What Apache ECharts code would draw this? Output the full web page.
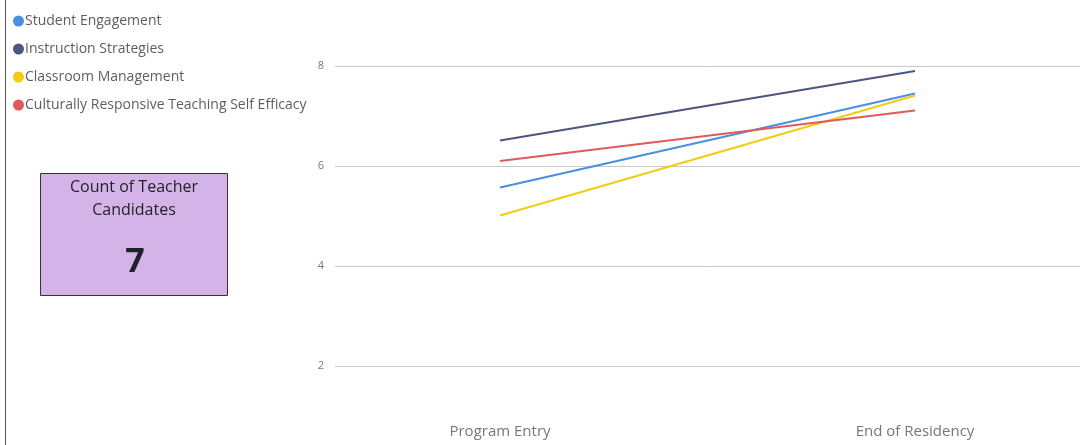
<!DOCTYPE html>
<html>
<head>
<meta charset="utf-8">
<script src="https://cdn.jsdelivr.net/npm/echarts@6/dist/echarts.min.js"></script>
<style>
  html, body { margin: 0; padding: 0; background: #fff; }
  #main { width: 1082px; height: 445px; }
</style>
</head>
<body>
<div id="main"></div>
<script>
// data
var stages = ['Program Entry', 'End of Residency'];
var studentEngagement = [5.57, 7.45];
var instructionStrategies = [6.51, 7.9];
var classroomManagement = [5.01, 7.41];
var culturallyResponsive = [6.1, 7.11];
var candidateCount = 7;

var font = '"Segoe UI", "Open Sans", "Noto Sans", sans-serif';

var chart = echarts.init(document.getElementById('main'));

function line(name, color, data) {
  return {
    name: name,
    type: 'line',
    xAxisIndex: 1,
    yAxisIndex: 1,
    data: data,
    symbol: 'none',
    lineStyle: { width: 2, color: color },
    itemStyle: { color: color }
  };
}

var option = {
  backgroundColor: '#fff',
  animation: false,
  legend: {
    orient: 'vertical',
    left: 8,
    top: 9,
    icon: 'circle',
    itemWidth: 11,
    itemHeight: 11,
    itemGap: 14,
    textStyle: { fontFamily: font, fontSize: 14, color: '#605e5c', padding: [0, 0, 0, -4] }
  },
  grid: [
    // gridlines + y labels
    { left: 335, right: 2, top: 66, height: 300 },
    // lines (points sit on the grid edges)
    { left: 500, right: 167, top: 66, height: 300 }
  ],
  xAxis: [
    { type: 'category', gridIndex: 0, data: stages, show: false },
    {
      type: 'category', gridIndex: 1, data: stages, boundaryGap: false,
      axisLine: { show: false }, axisTick: { show: false },
      axisLabel: { margin: 58, fontFamily: font, fontSize: 15, color: '#777' }
    }
  ],
  yAxis: [
    {
      type: 'value', gridIndex: 0, min: 2, max: 8, interval: 2,
      axisLine: { show: false }, axisTick: { show: false },
      axisLabel: { margin: 11, fontFamily: font, fontSize: 11, color: '#777' },
      splitLine: { lineStyle: { color: '#c8c8c8', width: 1 } }
    },
    { type: 'value', gridIndex: 1, min: 2, max: 8, interval: 2, show: false }
  ],
  series: [
    line('Student Engagement', '#4a8fe3', studentEngagement),
    line('Instruction Strategies', '#4c5583', instructionStrategies),
    line('Classroom Management', '#f2cb13', classroomManagement),
    line('Culturally Responsive Teaching Self Efficacy', '#e05a5b', culturallyResponsive)
  ],
  graphic: [
    { type: 'line', shape: { x1: 5.5, y1: 0, x2: 5.5, y2: 445 }, style: { stroke: '#555', lineWidth: 1 } },
    {
      type: 'rect', shape: { x: 40.5, y: 173.5, width: 187, height: 122 },
      style: { fill: '#d3b3e8', stroke: '#333', lineWidth: 1 }
    },
    {
      type: 'text', z: 10, style: {
        x: 134, y: 199, text: 'Count of Teacher\nCandidates', align: 'center', verticalAlign: 'middle',
        fontFamily: font, fontSize: 16, lineHeight: 23, fill: '#252423'
      }
    },
    {
      type: 'text', z: 10, style: {
        x: 135, y: 262, text: String(candidateCount), align: 'center', verticalAlign: 'middle',
        fontFamily: '"Noto Sans", sans-serif', fontSize: 34, fontWeight: 'bold', fill: '#1f1f2e'
      }
    }
  ]
};

chart.setOption(option);
</script>
</body>
</html>
